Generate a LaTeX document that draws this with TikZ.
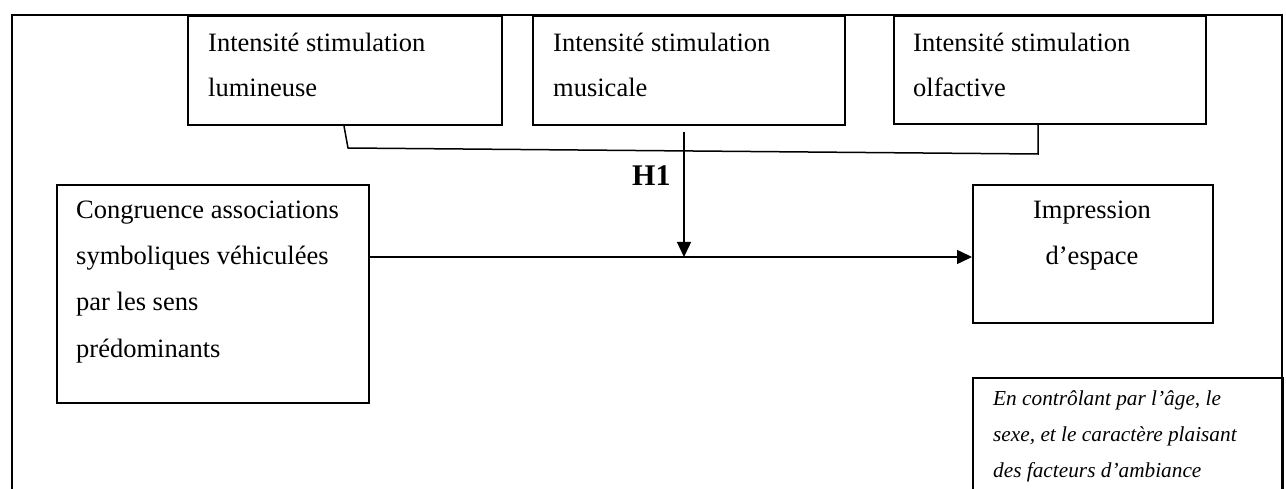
\documentclass[tikz,border=0pt]{standalone}
\usepackage{fontspec}
\setmainfont{Liberation Serif}
\usetikzlibrary{arrows.meta,calc}
\begin{document}
\begin{tikzpicture}[x=1pt,y=-1pt,
  box/.style={draw,line width=2pt,inner sep=0pt,anchor=north west},
  txt/.style={inner sep=0pt,font=\fontsize{26.5}{30}\selectfont},
  small/.style={inner sep=0pt,font=\fontsize{21.3}{24}\selectfont\itshape},
  conn/.style={line width=1.5pt},
  arr/.style={line width=1.5pt,-{Triangle[width=14pt,length=15pt]}}
]
\useasboundingbox (0,0) rectangle (1286,489);
\clip (0,0) rectangle (1286,489);
\fill[white] (0,0) rectangle (1286,489);
% outer frame
\node[box,minimum width=1270pt,minimum height=560pt] (frame) at (11,14) {};
% top boxes
\node[box,minimum width=314pt,minimum height=109pt] (b1) at (187,15) {};
\node[box,minimum width=312pt,minimum height=109pt] (b2) at (532,15) {};
\node[box,minimum width=312pt,minimum height=108pt] (b3) at (893,15) {};
\node[txt,anchor=base west] (b1a) at (208,52) {Intensité stimulation};
\node[txt,anchor=base west] (b1b) at (208,97) {lumineuse};
\node[txt,anchor=base west] (b2a) at (553,52) {Intensité stimulation};
\node[txt,anchor=base west] (b2b) at (553,97) {musicale};
\node[txt,anchor=base west] (b3a) at (913,52) {Intensité stimulation};
\node[txt,anchor=base west] (b3b) at (913,97) {olfactive};
% left box
\node[box,minimum width=312pt,minimum height=218pt] (cong) at (56,184) {};
\node[txt,anchor=base west] (c1) at (76,219) {Congruence associations};
\node[txt,anchor=base west] (c2) at (76,265) {symboliques véhiculées};
\node[txt,anchor=base west] (c3) at (76,311) {par les sens};
\node[txt,anchor=base west] (c4) at (76,357) {prédominants};
% right box
\node[box,minimum width=240pt,minimum height=138pt] (imp) at (972,184) {};
\node[txt,anchor=base] (i1) at (1092,219) {Impression};
\node[txt,anchor=base] (i2) at (1092,265) {d’espace};
% control box
\node[box,minimum width=310pt,minimum height=200pt] (ctrl) at (972,377) {};
\node[small,anchor=base west] (k1) at (993,405) {En contrôlant par l’âge, le};
\node[small,anchor=base west] (k2) at (993,441) {sexe, et le caractère plaisant};
\node[small,anchor=base west] (k3) at (993,477) {des facteurs d’ambiance};
% bracket joining the three moderators
\coordinate (p1) at ($(b1.south west)+(157,0)$);
\coordinate (p2) at ($(b1.south west)+(161,22)$);
\coordinate (p3) at ($(b3.south west)+(145,29)$);
\coordinate (p4) at ($(b3.south west)+(145,0)$);
\draw[conn] (p1) -- (p2) -- (p3) -- (p4);
% main arrow
\coordinate (ay) at (0,257);
\draw[arr] (cong.east |- ay) -- (imp.west |- ay);
% H1 arrow
\coordinate (h0) at (684,132);
\coordinate (h1) at (684,257);
\draw[arr] (h0) -- (h1);
\node[inner sep=0pt,anchor=base west,font=\fontsize{30}{32}\selectfont\bfseries] (H1) at (632,186) {H1};
\end{tikzpicture}
\end{document}
